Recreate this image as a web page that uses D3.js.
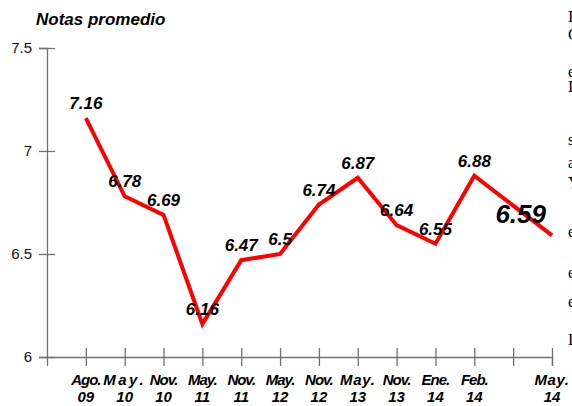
<!DOCTYPE html>
<html>
<head>
<meta charset="utf-8">
<script src="https://cdn.jsdelivr.net/npm/d3@7/dist/d3.min.js"></script>
<style>
  html, body { margin: 0; padding: 0; background: #fff; }
  svg { display: block; }
</style>
</head>
<body>
<svg id="chart" width="572" height="406"></svg>
<script>
// ---- data ----
const catTop    = ["Ago.", "May.", "Nov.", "May.", "Nov.", "May.", "Nov.", "May.", "Nov.", "Ene.", "Feb.", "", "May."];
const catBottom = ["09",   "10",   "10",   "11",   "11",   "12",   "12",   "13",   "13",   "14",   "14",   "",  "14"];
const values    = [7.16, 6.78, 6.69, 6.16, 6.47, 6.5, 6.74, 6.87, 6.64, 6.55, 6.88, null, 6.59];
const valueLabels = ["7.16", "6.78", "6.69", "6.16", "6.47", "6.5", "6.74", "6.87", "6.64", "6.55", "6.88", "", "6.59"];
const yTicks = [6, 6.5, 7, 7.5];
const yTickLabels = ["6", "6.5", "7", "7.5"];
const yTitle = "Notas promedio";
const sideText = ["I", "C", "e", "I", "s", "a", "Y", "e", "e", "e", "I"];

// ---- layout ----
const svg = d3.select("#chart");
const mLeft = 47, mRight = 552, mTop = 48, mBottom = 357;
const font = "'Liberation Sans', Arial, sans-serif";

const x = d3.scaleLinear().domain([0, catTop.length]).range([mLeft, mRight]);
const y = d3.scaleLinear().domain([6, 7.5]).range([mBottom, mTop]);

// title
svg.append("text")
  .attr("x", 36).attr("y", 25)
  .attr("font-family", font).attr("font-size", 17)
  .attr("font-weight", "bold").attr("font-style", "italic")
  .attr("fill", "#000")
  .text(yTitle);

// y axis
const yAxis = svg.append("g")
  .attr("transform", `translate(${mLeft},0)`)
  .call(d3.axisLeft(y).tickValues(yTicks).tickSize(8).tickPadding(7)
        .tickFormat((d, i) => yTickLabels[i]));
yAxis.select(".domain").attr("stroke", "#707070").attr("stroke-width", 1.3);
yAxis.selectAll(".tick line").attr("x1", 8).attr("x2", -8).attr("stroke", "#707070").attr("stroke-width", 1.3);
yAxis.selectAll(".tick text")
  .attr("font-family", font).attr("font-size", 15).attr("fill", "#111");

// x axis
const idx = d3.range(1, catTop.length + 1);
const xAxis = svg.append("g")
  .attr("transform", `translate(0,${mBottom})`)
  .call(d3.axisBottom(x).tickValues(idx).tickSize(9).tickFormat(""));
xAxis.select(".domain").attr("stroke", "#707070").attr("stroke-width", 1.3);
xAxis.selectAll(".tick line").attr("y1", -9).attr("y2", 9).attr("stroke", "#707070").attr("stroke-width", 1.3);

const spacing = [-1, 2.5, -1, -1, -1, -1, -1, 0.7, -1, -1, -1, 0, 0.5];
const xl = svg.append("g");
catTop.forEach((c, i) => {
  const g = xl.append("text")
    .attr("font-family", font).attr("font-size", 15)
    .attr("font-weight", "bold").attr("font-style", "italic")
    .attr("fill", "#000").attr("text-anchor", "middle");
  g.append("tspan").attr("x", x(i + 1)).attr("y", 385)
    .attr("letter-spacing", spacing[i]).text(c);
  g.append("tspan").attr("x", x(i + 1)).attr("y", 402).text(catBottom[i]);
});

// line
const pts = values.map((v, i) => ({ i: i + 1, v, label: valueLabels[i] })).filter(d => d.v !== null);
svg.append("path")
  .datum(pts)
  .attr("fill", "none")
  .attr("stroke", "#ff0000")
  .attr("stroke-width", 4)
  .attr("stroke-linejoin", "miter")
  .attr("d", d3.line().x(d => x(d.i)).y(d => y(d.v)));

// data labels
const last = pts[pts.length - 1];
svg.append("g").selectAll("text")
  .data(pts)
  .join("text")
  .attr("font-family", font)
  .attr("font-weight", "bold").attr("font-style", "italic")
  .attr("fill", "#000")
  .attr("font-size", d => d === last ? 26 : 17)
  .attr("text-anchor", d => d === last ? "end" : "middle")
  .attr("x", d => d === last ? x(d.i) - 6 : x(d.i))
  .attr("y", d => d === last ? y(d.v) - 12 : y(d.v) - 9)
  .text(d => d.label);

// clipped neighbouring text at the right edge
const sideY = [22, 40, 77, 92, 145, 168, 188, 237, 278, 307, 345];
svg.append("g").selectAll("text")
  .data(sideText)
  .join("text")
  .attr("x", 568)
  .attr("y", (d, i) => sideY[i])
  .attr("font-family", "'Liberation Serif', 'Times New Roman', serif")
  .attr("font-size", 16)
  .attr("fill", "#000")
  .text(d => d);
</script>
</body>
</html>
